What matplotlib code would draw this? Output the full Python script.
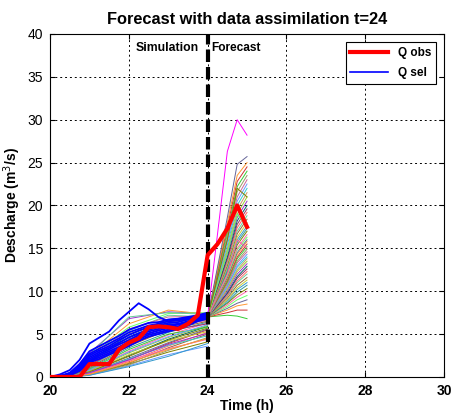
import matplotlib
matplotlib.use("Agg")
import matplotlib.pyplot as plt

plt.rcParams['font.family'] = ['Liberation Sans', 'DejaVu Sans']

# observed discharge (Q obs), 15 min steps
t_obs = [20, 20.25, 20.5, 20.75, 21, 21.25, 21.5, 21.75, 22, 22.25, 22.5,
         22.75, 23, 23.25, 23.5, 23.75, 24, 24.25, 24.5, 24.75, 25]
q_obs = [0, 0, 0, 0, 1.5, 1.5, 1.5, 3.2, 4.0, 4.5, 5.8,
         5.9, 5.8, 5.6, 6.2, 7.2, 14.2, 15.5, 17.3, 20.0, 17.5]

# selected members (Q sel) up to t=24
t_sel = [20, 20.25, 20.5, 20.75, 21, 21.25, 21.5, 21.75, 22, 22.25, 22.5,
         22.75, 23, 23.25, 23.5, 23.75, 24]
q_sel = [
    [0, 0.3, 0.8, 2.0, 3.9, 4.6, 5.3, 6.6, 7.6, 8.6, 7.9, 7.0, 6.5, 6.7, 6.9, 7.1, 7.4],
    [0, 0.1, 0.5, 1.5, 3.0, 3.6, 4.2, 4.8, 5.5, 5.9, 6.3, 6.4, 6.7, 6.8, 7.0, 7.2, 7.5],
    [0, 0.1, 0.4, 1.3, 2.7, 3.3, 3.9, 4.5, 5.2, 5.6, 6.0, 6.2, 6.5, 6.6, 6.8, 7.1, 7.4],
    [0, 0.1, 0.4, 1.2, 2.5, 3.1, 3.6, 4.3, 4.9, 5.4, 5.8, 6.0, 6.3, 6.4, 6.7, 7.0, 7.3],
    [0, 0.0, 0.3, 1.1, 2.3, 2.9, 3.4, 4.0, 4.6, 5.1, 5.5, 5.8, 6.1, 6.2, 6.5, 6.9, 7.2],
    [0, 0.0, 0.3, 1.0, 2.1, 2.7, 3.2, 3.8, 4.3, 4.9, 5.3, 5.6, 5.9, 6.1, 6.4, 6.8, 7.1],
    [0, 0.0, 0.2, 0.9, 1.9, 2.5, 3.0, 3.5, 4.1, 4.7, 5.1, 5.4, 5.7, 5.9, 6.3, 6.7, 7.0],
    [0, 0.0, 0.2, 0.8, 1.8, 2.3, 2.8, 3.3, 3.8, 4.4, 4.9, 5.2, 5.5, 5.8, 6.1, 6.6, 6.9],
    [0, 0.0, 0.2, 0.7, 1.7, 2.1, 2.6, 3.1, 3.6, 4.2, 4.7, 5.0, 5.3, 5.6, 6.0, 6.5, 6.8],
]

# ensemble simulation members up to t=24
t_sim = [20, 20.5, 21, 22, 23, 24]
q_sim = [
    [0, 0.2, 1.8, 4.6, 6.2, 7.1], [0, 0.3, 2.2, 5.0, 6.6, 7.2],
    [0, 0.1, 1.2, 3.8, 5.6, 6.8], [0, 0.0, 0.8, 3.0, 4.9, 6.3],
    [0, 0.0, 0.6, 2.5, 4.4, 5.9], [0, 0.0, 0.4, 2.0, 3.9, 5.5],
    [0, 0.0, 0.3, 1.6, 3.4, 5.0], [0, 0.0, 0.2, 1.3, 2.6, 3.6],
    [0, 0.0, 0.3, 1.5, 2.9, 4.1], [0, 0.4, 2.8, 6.8, 7.6, 7.4],
    [0, 0.3, 2.5, 6.2, 7.8, 7.3], [0, 0.2, 2.0, 5.4, 7.2, 7.0],
    [0, 0.1, 1.5, 4.2, 5.9, 6.6], [0, 0.1, 1.0, 3.4, 5.2, 6.4],
    [0, 0.0, 0.7, 2.8, 4.6, 6.0], [0, 0.0, 0.5, 2.2, 4.0, 5.6],
    [0, 0.0, 0.4, 1.8, 3.6, 5.2], [0, 0.0, 0.3, 1.4, 3.1, 4.6],
    [0, 0.0, 0.2, 1.2, 2.4, 3.9], [0, 0.2, 1.6, 4.4, 6.4, 6.9],
    [0, 0.3, 2.4, 5.8, 7.4, 7.5], [0, 0.1, 1.3, 3.9, 5.4, 6.2],
    [0, 0.0, 0.9, 3.2, 5.0, 5.8], [0, 0.0, 0.6, 2.6, 4.2, 5.3],
    [0, 0.0, 0.5, 2.1, 3.7, 4.8], [0, 0.0, 0.4, 1.9, 3.3, 4.4],
    [0, 0.2, 1.9, 4.9, 6.7, 7.2], [0, 0.1, 1.4, 4.0, 6.0, 6.7],
    [0, 0.0, 1.1, 3.6, 5.5, 6.5], [0, 0.0, 0.8, 2.9, 4.7, 6.1],
    [0, 0.0, 0.6, 2.4, 4.3, 5.7], [0, 0.0, 0.5, 2.0, 3.8, 5.1],
    [0, 0.0, 0.3, 1.7, 3.2, 4.5], [0, 0.3, 2.6, 7.0, 7.5, 7.3],
    [0, 0.2, 2.1, 5.6, 7.0, 7.1], [0, 0.1, 1.7, 4.7, 6.5, 6.9],
]

# forecast members from t=24
t_fc = [24, 24.5, 24.75, 25]
fc_start = 7.0
q_fc = [
    [7.2, 7.1, 6.8], [7.5, 7.8, 7.8], [7.8, 8.3, 8.5], [8.0, 8.6, 9.0],
    [8.2, 9.0, 9.5], [8.4, 9.3, 10.0], [8.6, 9.6, 10.3], [8.7, 9.9, 10.7],
    [8.9, 10.2, 11.0], [9.0, 10.4, 11.3], [9.2, 10.7, 11.6], [9.4, 11.0, 12.0],
    [9.5, 11.2, 12.3], [9.7, 11.5, 12.6], [9.8, 11.7, 12.9], [10.0, 12.0, 13.2],
    [10.2, 12.3, 13.5], [10.3, 12.5, 13.8], [10.5, 12.8, 14.0], [10.6, 13.0, 14.3],
    [10.8, 13.3, 14.6], [11.0, 13.5, 14.9], [11.1, 13.8, 15.2], [11.3, 14.0, 15.5],
    [11.5, 14.3, 15.8], [11.6, 14.5, 16.0], [11.8, 14.8, 16.3], [12.0, 15.0, 16.6],
    [12.2, 15.4, 17.0], [12.4, 15.7, 17.3], [12.6, 16.0, 17.6], [12.8, 16.3, 18.0],
    [13.0, 16.7, 18.4], [13.3, 17.0, 18.8], [13.5, 17.4, 19.2], [13.8, 17.8, 19.6],
    [14.0, 18.2, 20.0], [14.4, 18.6, 20.5], [14.7, 19.0, 21.0], [15.0, 19.5, 21.5],
    [15.4, 20.0, 22.0], [15.8, 20.5, 22.5], [16.2, 21.0, 23.0], [16.6, 21.6, 23.5],
    [17.0, 22.2, 24.0], [17.5, 22.8, 24.5], [18.0, 23.5, 25.0], [18.6, 24.8, 25.7],
    [14.5, 19.0, 17.5], [12.0, 16.0, 15.0], [16.0, 22.0, 21.0], [26.3, 30.0, 28.2],
]

palette = ['#33cc33', '#cccc33', '#33cccc', '#ff66aa', '#006666', '#cc3333',
           '#996633', '#6699ff', '#808000', '#9933cc', '#ff9933', '#66cc99',
           '#cc6699', '#339999', '#99cc33', '#666699', '#ff6666', '#999966',
           '#3399cc', '#cc9966', '#66ff66', '#993366']

fig = plt.figure(figsize=(4.51, 4.19), dpi=100)
ax = fig.add_axes([0.111, 0.1003, 0.8735, 0.8186])

for i, row in enumerate(q_sim):
    ax.plot(t_sim, row, color=palette[i % len(palette)], lw=0.7, zorder=2)

for row in q_sel:
    ax.plot(t_sel, row, color='blue', lw=1.3, zorder=3)

for i, row in enumerate(q_fc):
    c = '#ff00ff' if i == len(q_fc) - 1 else palette[(i * 5) % len(palette)]
    ax.plot(t_fc, [fc_start] + row, color=c, lw=0.7, zorder=2)

ax.axvline(24, color='black', lw=3, ls=(0, (3, 1.2)), zorder=4)
l_obs, = ax.plot(t_obs, q_obs, color='red', lw=3, zorder=5)
l_sel, = ax.plot([], [], color='blue', lw=1.2)

ax.text(23.78, 38.4, 'Simulation', ha='right', va='center', fontsize=8.8, fontweight='bold')
ax.text(24.08, 38.4, 'Forecast', ha='left', va='center', fontsize=8.6, fontweight='bold')

ax.set_xlim(20, 30)
ax.set_ylim(0, 40)
ax.set_xticks(range(20, 31, 2))
ax.set_yticks(range(0, 41, 5))
ax.grid(True, color='black', ls=(0, (2, 3)), lw=0.7)
ax.tick_params(direction='in', top=True, right=True, labelsize=10)
ax.tick_params(axis='x', pad=5)
ax.tick_params(axis='y', pad=5)
for lab in ax.get_xticklabels():
    lab.set_fontweight('bold')

ax.set_xlabel('Time (h)', fontsize=10, fontweight='bold', labelpad=1)
ax.set_ylabel('Descharge (m$^3$/s)', fontsize=10, fontweight='bold', labelpad=3)
ax.set_title('Forecast with data assimilation t=24', fontsize=11.8, fontweight='bold', pad=7)

leg = ax.legend([l_obs, l_sel], ['Q obs', 'Q sel'], loc='upper right',
                fancybox=False, edgecolor='black', framealpha=1,
                prop={'weight': 'bold', 'size': 8.5}, handlelength=3.2,
                labelspacing=0.7, borderaxespad=0.7)
leg.get_frame().set_linewidth(0.8)

fig.savefig('out.png', dpi=100)
